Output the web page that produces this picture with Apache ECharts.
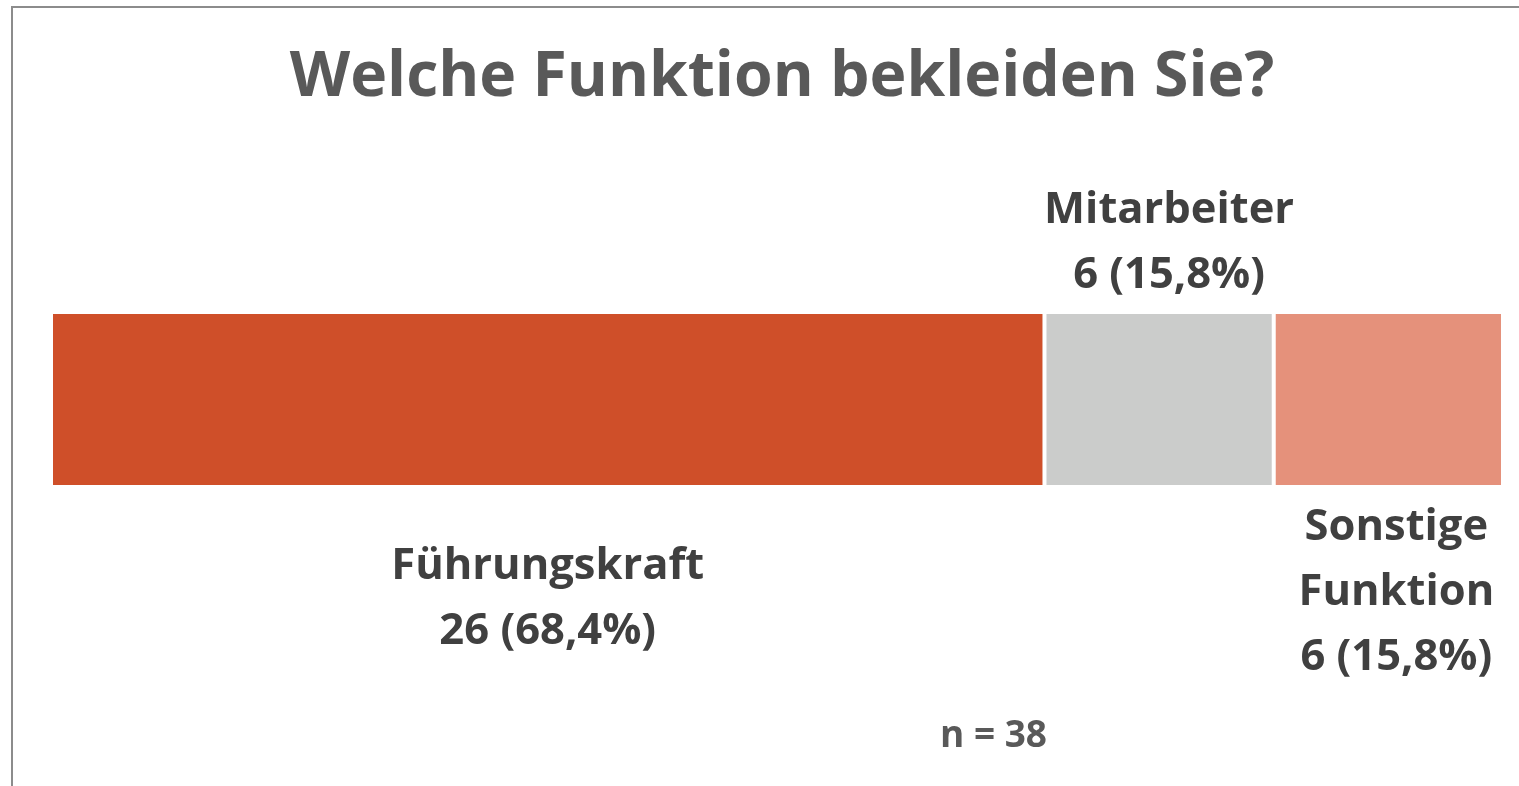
<!DOCTYPE html>
<html>
<head>
<meta charset="utf-8">
<script src="https://cdn.jsdelivr.net/npm/echarts@6/dist/echarts.min.js"></script>
<style>
  html, body { margin: 0; padding: 0; background: #fff; }
  #chart { width: 1519px; height: 786px; }
</style>
</head>
<body>
<div id="chart"></div>
<script>
// data
const categories = ['Führungskraft', 'Mitarbeiter', 'Sonstige Funktion'];
const counts = [26, 6, 6];
const percents = ['68,4', '15,8', '15,8'];
const labelNames = ['Führungskraft', 'Mitarbeiter', 'Sonstige\nFunktion'];
const total = 38;

const colors = ['#CF4F29', '#CBCCCB', '#E5917B'];
const labelPos = ['bottom', 'top', 'bottom'];
const labelDist = [47, 4, 8];
const labelShift = [0, 10, 8];

const FONT = '"Open Sans", "Noto Sans", sans-serif';

const chart = echarts.init(document.getElementById('chart'));

const series = categories.map((name, i) => ({
  name: name,
  type: 'bar',
  stack: 'all',
  barWidth: 175,
  data: [counts[i]],
  itemStyle: { color: colors[i], borderColor: '#fff', borderWidth: 2 },
  label: {
    show: true,
    position: labelPos[i],
    distance: labelDist[i],
    offset: [labelShift[i], 0],
    formatter: () => labelNames[i] + '\n' + counts[i] + ' (' + percents[i] + '%)',
    fontFamily: FONT,
    fontWeight: 'bold',
    fontSize: 43.5,
    lineHeight: 65,
    color: '#404040',
    align: 'center'
  },
  silent: true
}));

chart.setOption({
  animation: false,
  title: {
    text: 'Welche Funktion bekleiden Sie?',
    top: 42,
    left: 777,
    textAlign: 'center',
    textStyle: {
      fontFamily: FONT,
      fontWeight: 'bold',
      fontSize: 62.5,
      color: '#595959'
    }
  },
  grid: { left: 51, right: 16, top: 312, height: 175 },
  xAxis: { type: 'value', min: 0, max: total, show: false },
  yAxis: { type: 'category', data: [''], show: false },
  series: series,
  graphic: [
    {
      type: 'polyline',
      shape: { points: [[12, 800], [12, 7], [1519, 7]] },
      style: { stroke: '#8C8C8C', lineWidth: 2, fill: null },
      silent: true
    },
    {
      type: 'text',
      left: 940,
      top: 718,
      style: {
        text: 'n = ' + total,
        fontFamily: FONT,
        fontWeight: 'bold',
        fontSize: 37,
        fill: '#595959'
      }
    }
  ]
});
</script>
</body>
</html>
